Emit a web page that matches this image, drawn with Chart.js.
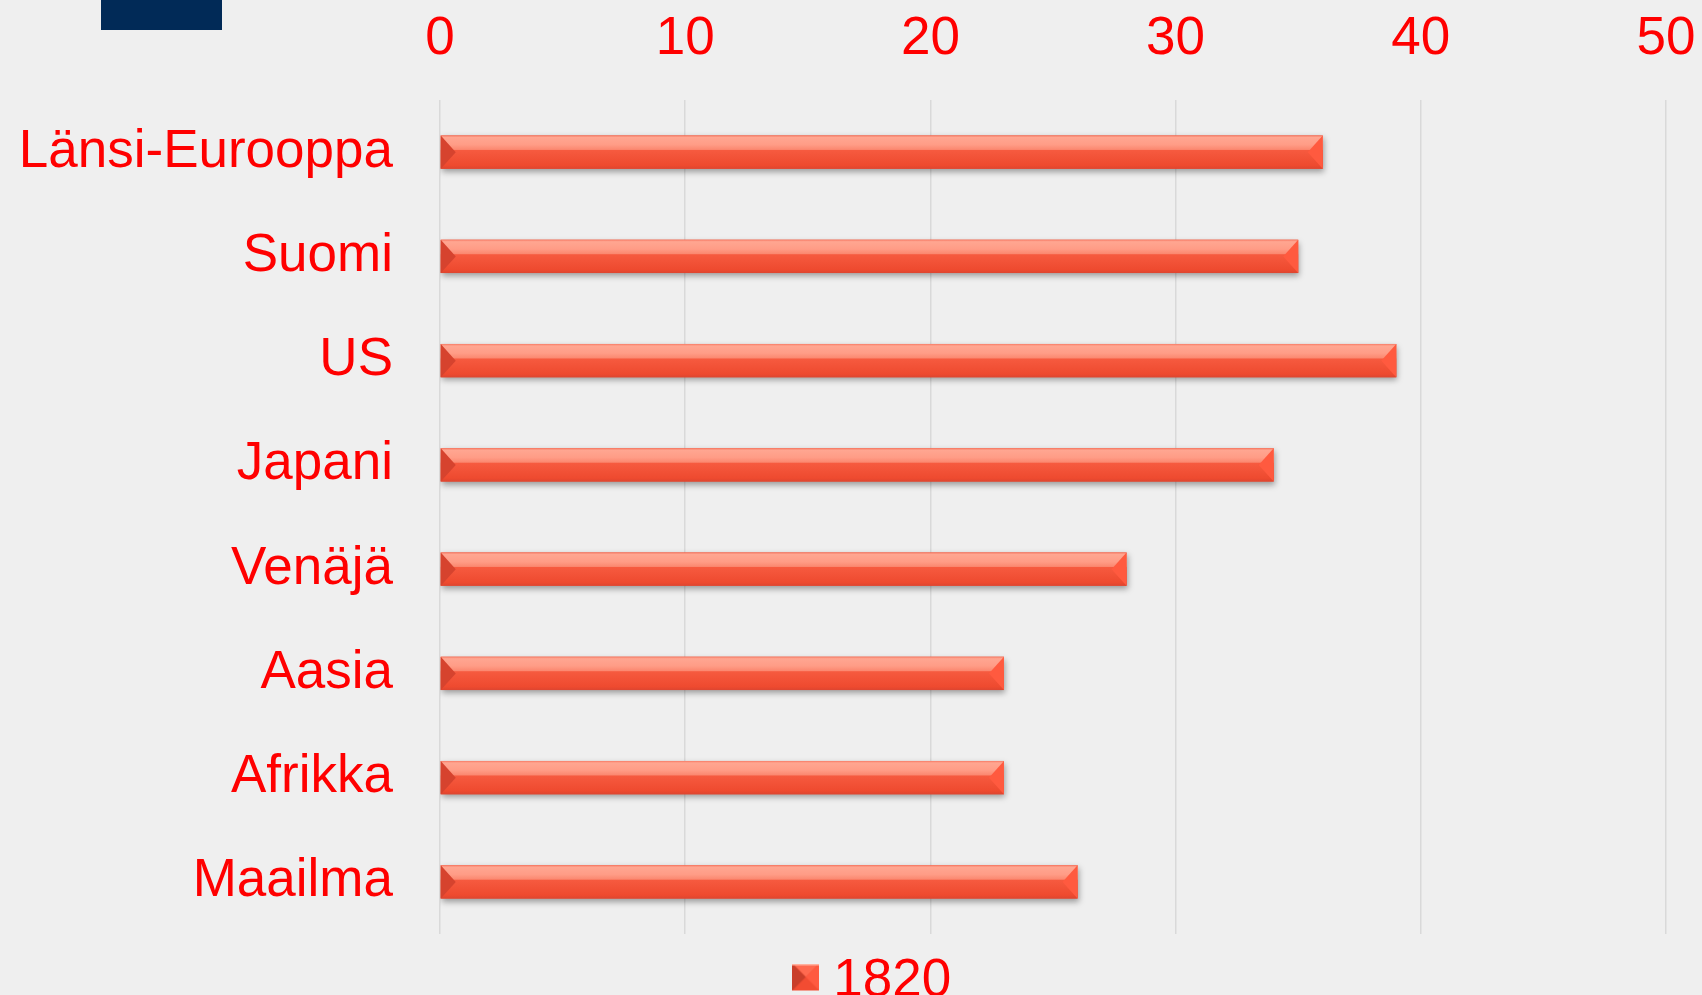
<!DOCTYPE html>
<html lang="fi">
<head>
  <meta charset="UTF-8" />
  <title>1820</title>
  <script src="https://cdn.jsdelivr.net/npm/chart.js@4.4.1/dist/chart.umd.min.js"></script>
  <style>
    html, body { margin: 0; padding: 0; background: #efefef; overflow: hidden; }
    #wrap { position: relative; width: 1702px; height: 995px; }
    #logo { position: absolute; left: 101px; top: 0; width: 121px; height: 30px; background: #012a57; }
  </style>
</head>
<body>
  <div id="wrap">
    <canvas id="grafiikka"></canvas>
    <div id="logo"></div>
  </div>

<script>
// Alueet ja arvot (1820)
const alueet = ["Länsi-Eurooppa", "Suomi", "US", "Japani", "Venäjä", "Aasia", "Afrikka", "Maailma"];
const arvot1820 = [36, 35, 39, 34, 28, 23, 23, 26];
const sarjanNimi = "1820";
const akseliMin = 0;
const akseliMax = 50;
const akseliAskel = 10;

const punainen = "#ff0000";
const fontti = "'Liberation Sans', Arial, sans-serif";

// pieni viistetty neliö selitteeseen (kuvan alaosa tyhjä -> neliö nousee tekstin tasolle)
function selitekuva() {
  const c = document.createElement("canvas");
  c.width = 27; c.height = 36;
  const g = c.getContext("2d");
  g.fillStyle = "#f24c32";
  g.fillRect(0, 0, 27, 27);
  g.fillStyle = "#ff6a50";
  g.beginPath(); g.moveTo(0, 0); g.lineTo(27, 0); g.lineTo(13.5, 13.5); g.closePath(); g.fill();
  g.fillStyle = "#c93e2a";
  g.beginPath(); g.moveTo(0, 0); g.lineTo(13.5, 13.5); g.lineTo(0, 27); g.closePath(); g.fill();
  g.fillStyle = "#ff5a40";
  g.beginPath(); g.moveTo(27, 0); g.lineTo(13.5, 13.5); g.lineTo(27, 27); g.closePath(); g.fill();
  g.fillStyle = "#ffb09e";
  g.fillRect(0, 0, 27, 2);
  return c;
}

// varjo palkkien alle
const varjo = {
  id: "varjo",
  beforeDatasetsDraw(chart) {
    const ctx = chart.ctx;
    ctx.save();
    ctx.shadowColor = "rgba(0,0,0,0.35)";
    ctx.shadowBlur = 6;
    ctx.shadowOffsetY = 3;
    ctx.shadowOffsetX = 1;
  },
  afterDatasetsDraw(chart) {
    chart.ctx.restore();
    piirraViisteet(chart);
  }
};

// kiiltävä pinta + viistetyt päät
function piirraViisteet(chart) {
  const ctx = chart.ctx;
  const meta = chart.getDatasetMeta(0);
  meta.data.forEach(bar => {
    const p = bar.getProps(["x", "y", "base", "height"], true);
    const vasen = Math.min(p.base, p.x), oikea = Math.max(p.base, p.x);
    const yla = p.y - p.height / 2, ala = p.y + p.height / 2, h = p.height;
    const g = ctx.createLinearGradient(0, yla, 0, ala);
    g.addColorStop(0, "#f77a64");
    g.addColorStop(0.06, "#ffa691");
    g.addColorStop(0.28, "#ff9c86");
    g.addColorStop(0.42, "#fb8870");
    g.addColorStop(0.45, "#f65a3f");
    g.addColorStop(0.9, "#ee4a2f");
    g.addColorStop(1, "#dd4530");
    ctx.save();
    ctx.fillStyle = g;
    ctx.fillRect(vasen, yla, oikea - vasen, h);
    const v = h * 0.45;
    ctx.fillStyle = "#d6432e";
    ctx.beginPath();
    ctx.moveTo(vasen, yla);
    ctx.lineTo(vasen + v, p.y);
    ctx.lineTo(vasen, ala);
    ctx.closePath();
    ctx.fill();
    ctx.fillStyle = "#ff5a3f";
    ctx.beginPath();
    ctx.moveTo(oikea, yla);
    ctx.lineTo(oikea - v, p.y);
    ctx.lineTo(oikea, ala);
    ctx.closePath();
    ctx.fill();
    ctx.restore();
  });
}

// selite hieman oikealle ja alas
const selitteenSiirto = {
  id: "selitteenSiirto",
  afterLayout(chart) {
    const l = chart.legend;
    l.left += 45; l.right += 45;
    l.top += 21; l.bottom += 21;
  }
};

new Chart(document.getElementById("grafiikka"), {
  type: "bar",
  data: {
    labels: alueet,
    datasets: [{
      label: sarjanNimi,
      data: arvot1820,
      backgroundColor: "#ee4a2f",
      borderWidth: 0,
      barPercentage: 0.8,
      categoryPercentage: 0.4
    }]
  },
  options: {
    indexAxis: "y",
    responsive: true,
    maintainAspectRatio: false,
    animation: false,
    layout: { padding: { left: 0, right: 36, top: 0, bottom: -2 } },
    scales: {
      x: {
        position: "top",
        min: akseliMin,
        max: akseliMax,
        ticks: { stepSize: akseliAskel, color: punainen, padding: 29, font: { family: fontti, size: 53 } },
        grid: { color: "#d9d9d9", lineWidth: 1.5, drawTicks: false },
        border: { display: false },
        afterFit(s) { s.height = 100; s.paddingLeft = 0; s.paddingRight = 0; }
      },
      y: {
        ticks: { color: punainen, padding: 47, font: { family: fontti, size: 53 } },
        grid: { display: false, drawTicks: false },
        border: { display: false },
        afterFit(s) { s.width = 440; s.paddingTop = 0; s.paddingBottom = 0; }
      }
    },
    plugins: {
      legend: {
        position: "bottom",
        labels: {
          color: punainen,
          font: { family: fontti, size: 53 },
          usePointStyle: true,
          pointStyle: selitekuva(),
          pointStyleWidth: 2,
          boxHeight: 27,
          padding: 0
        }
      },
      tooltip: { enabled: false }
    }
  },
  plugins: [varjo, selitteenSiirto]
});
</script>
</body>
</html>
